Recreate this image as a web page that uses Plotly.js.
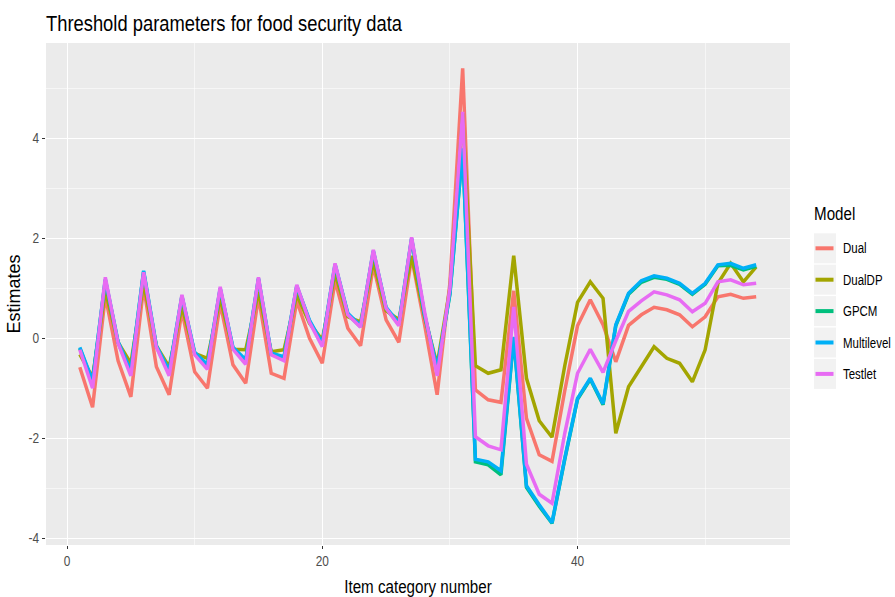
<!DOCTYPE html>
<html>
<head>
<meta charset="utf-8">
<script src="https://cdn.plot.ly/plotly-3.0.1.min.js"></script>
<style>
  html, body { margin: 0; padding: 0; background: #ffffff; }
  #chart { width: 895px; height: 597px; }
</style>
</head>
<body>
<div id="chart"></div>
<script>
// Item category numbers (x axis)
const items = [1, 2, 3, 4, 5, 6, 7, 8, 9, 10, 11, 12, 13, 14, 15, 16, 17, 18, 19, 20,
               21, 22, 23, 24, 25, 26, 27, 28, 29, 30, 31, 32, 33, 34, 35, 36, 37, 38, 39, 40,
               41, 42, 43, 44, 45, 46, 47, 48, 49, 50, 51, 52, 53, 54];

// Threshold estimates per model
const dual = [-0.58, -1.38, 0.85, -0.45, -1.17, 1.03, -0.57, -1.13, 0.55, -0.67,
              -1.00, 0.70, -0.53, -0.90, 0.83, -0.70, -0.80, 0.75, 0.00, -0.50,
              1.15, 0.20, -0.15, 1.45, 0.37, -0.08, 1.62, 0.30, -1.13, 1.10,
              5.40, -1.03, -1.23, -1.28, 0.95, -1.60, -2.33, -2.46, -1.05, 0.25,
              0.77, 0.27, -0.47, 0.26, 0.47, 0.62, 0.57, 0.47, 0.23, 0.43,
              0.83, 0.88, 0.80, 0.83];

const dualDP = [-0.32, -0.78, 0.95, -0.08, -0.50, 1.10, -0.15, -0.57, 0.63, -0.30,
                -0.40, 0.80, -0.22, -0.23, 0.93, -0.27, -0.23, 0.87, 0.30, -0.03,
                1.30, 0.43, 0.33, 1.53, 0.55, 0.37, 1.65, 0.45, -0.53, 1.00,
                4.50, -0.55, -0.70, -0.63, 1.65, -0.80, -1.65, -1.98, -0.55, 0.72,
                1.13, 0.80, -1.90, -0.97, -0.57, -0.17, -0.40, -0.50, -0.87, -0.23,
                1.10, 1.50, 1.13, 1.43];

const gpcm = [-0.20, -0.87, 1.16, -0.09, -0.67, 1.33, -0.17, -0.67, 0.83, -0.30,
              -0.55, 0.98, -0.20, -0.45, 1.18, -0.32, -0.39, 1.03, 0.34, -0.12,
              1.46, 0.48, 0.23, 1.73, 0.60, 0.28, 1.98, 0.48, -0.62, 0.88,
              3.78, -2.47, -2.53, -2.73, 0.01, -2.98, -3.36, -3.70, -2.42, -1.22,
              -0.82, -1.33, 0.25, 0.88, 1.12, 1.22, 1.18, 1.08, 0.88, 1.08,
              1.45, 1.46, 1.37, 1.44];

const multilevel = [-0.18, -0.85, 1.18, -0.07, -0.65, 1.35, -0.15, -0.65, 0.85, -0.28,
                    -0.53, 1.00, -0.18, -0.43, 1.20, -0.30, -0.37, 1.05, 0.36, -0.10,
                    1.48, 0.50, 0.25, 1.75, 0.62, 0.30, 2.00, 0.50, -0.60, 0.90,
                    3.80, -2.42, -2.47, -2.65, 0.03, -2.95, -3.33, -3.69, -2.40, -1.20,
                    -0.80, -1.31, 0.27, 0.90, 1.15, 1.25, 1.20, 1.10, 0.90, 1.10,
                    1.47, 1.50, 1.40, 1.47];

const testlet = [-0.23, -1.00, 1.22, -0.10, -0.75, 1.32, -0.18, -0.75, 0.87, -0.33,
                 -0.62, 1.03, -0.22, -0.52, 1.22, -0.33, -0.45, 1.07, 0.32, -0.17,
                 1.50, 0.47, 0.22, 1.77, 0.60, 0.25, 2.02, 0.55, -0.75, 1.00,
                 4.53, -1.97, -2.15, -2.23, 0.63, -2.52, -3.12, -3.30, -1.90, -0.70,
                 -0.22, -0.68, -0.05, 0.54, 0.75, 0.93, 0.87, 0.77, 0.53, 0.70,
                 1.13, 1.17, 1.07, 1.10];

const modelNames = ["Dual", "DualDP", "GPCM", "Multilevel", "Testlet"];
const modelColors = ["#F8766D", "#A3A500", "#00BF7D", "#00B0F6", "#E76BF3"];
const modelValues = [dual, dualDP, gpcm, multilevel, testlet];

const xTicks = [0, 20, 40];
const yTicks = [-4, -2, 0, 2, 4];

const FONT = '"Liberation Sans", Arial, sans-serif';
// Horizontal compression applied to the text so it reads as a narrow face
const NARROW_FACTOR = 0.82;

// Panel geometry in pixels (used for the hand-built legend block)
const W = 895, H = 597;
const M = { l: 46, r: 105, t: 43, b: 52 };
const pw = W - M.l - M.r, ph = H - M.t - M.b;
const px = x => (x - M.l) / pw;
const py = y => (H - M.b - y) / ph;

const traces = modelNames.map((name, i) => ({
  type: "scatter",
  mode: "lines",
  name: name,
  x: items,
  y: modelValues[i],
  line: { color: modelColors[i], width: 3.5 },
  showlegend: false,
  hoverinfo: "x+y+name"
}));

// Legend: title, grey key boxes, coloured key lines and labels
const shapes = [];
const annotations = [
  { text: "Model", xref: "paper", yref: "paper", x: px(812), y: py(213),
    xanchor: "left", yanchor: "middle", align: "left", showarrow: false,
    font: { family: FONT, size: 18.5, color: "#000000" } }
];
modelNames.forEach((name, i) => {
  const cy = 248.3 + i * 31.4;
  shapes.push({ type: "rect", xref: "paper", yref: "paper",
    x0: px(814), x1: px(836), y0: py(cy - 15), y1: py(cy + 15),
    fillcolor: "#F2F2F2", line: { width: 0 }, layer: "above" });
  shapes.push({ type: "line", xref: "paper", yref: "paper",
    x0: px(815.5), x1: px(833.5), y0: py(cy), y1: py(cy),
    line: { color: modelColors[i], width: 4 }, layer: "above" });
  annotations.push({ text: name, xref: "paper", yref: "paper",
    x: px(841), y: py(cy), xanchor: "left", yanchor: "middle", align: "left", showarrow: false,
    font: { family: FONT, size: 14, color: "#000000" } });
});

const axisCommon = {
  showline: false,
  zeroline: false,
  showgrid: true,
  gridcolor: "#FFFFFF",
  gridwidth: 1.1,
  ticks: "outside",
  ticklen: 3,
  tickwidth: 1.1,
  tickcolor: "#333333",
  tickfont: { family: FONT, size: 14.5, color: "#4D4D4D" },
  automargin: false
};

const layout = {
  width: W,
  height: H,
  margin: M,
  paper_bgcolor: "#FFFFFF",
  plot_bgcolor: "#EBEBEB",
  showlegend: false,
  title: {
    text: "Threshold parameters for food security data",
    x: px(46), xref: "paper", xanchor: "left",
    y: 1 - 23 / H, yref: "container", yanchor: "middle",
    font: { family: FONT, size: 22.4, color: "#000000" }
  },
  xaxis: Object.assign({}, axisCommon, {
    range: [-1.65, 56.65],
    tickmode: "array",
    tickvals: xTicks,
    ticktext: xTicks.map(String),
    minor: { dtick: 10, tick0: 0, showgrid: true, gridcolor: "#FFFFFF", gridwidth: 0.55, ticks: "" },
    title: { text: "Item category number", standoff: 13,
             font: { family: FONT, size: 18.5, color: "#000000" } }
  }),
  yaxis: Object.assign({}, axisCommon, {
    range: [-4.134, 5.906],
    tickmode: "array",
    tickvals: yTicks,
    ticktext: yTicks.map(String),
    minor: { dtick: 1, tick0: 1, showgrid: true, gridcolor: "#FFFFFF", gridwidth: 0.55, ticks: "" },
    title: { text: "Estimates", standoff: 0,
             font: { family: FONT, size: 18, color: "#000000" } }
  }),
  shapes: shapes,
  annotations: annotations
};

Plotly.newPlot("chart", traces, layout, { displayModeBar: false, staticPlot: true }).then(gd => {
  // Squeeze horizontal text into a narrow face around its anchor point;
  // the rotated y title keeps its length
  gd.querySelectorAll("svg text").forEach(t => {
    if (t.classList.contains("ytitle")) return;
    if (!t.textContent) return;
    const ax = parseFloat(t.getAttribute("x")) || 0;
    const prev = t.getAttribute("transform") || "";
    t.setAttribute("transform",
      (prev + " translate(" + ax + ",0) scale(" + NARROW_FACTOR + ",1) translate(" + (-ax) + ",0)").trim());
  });
});
</script>
</body>
</html>
